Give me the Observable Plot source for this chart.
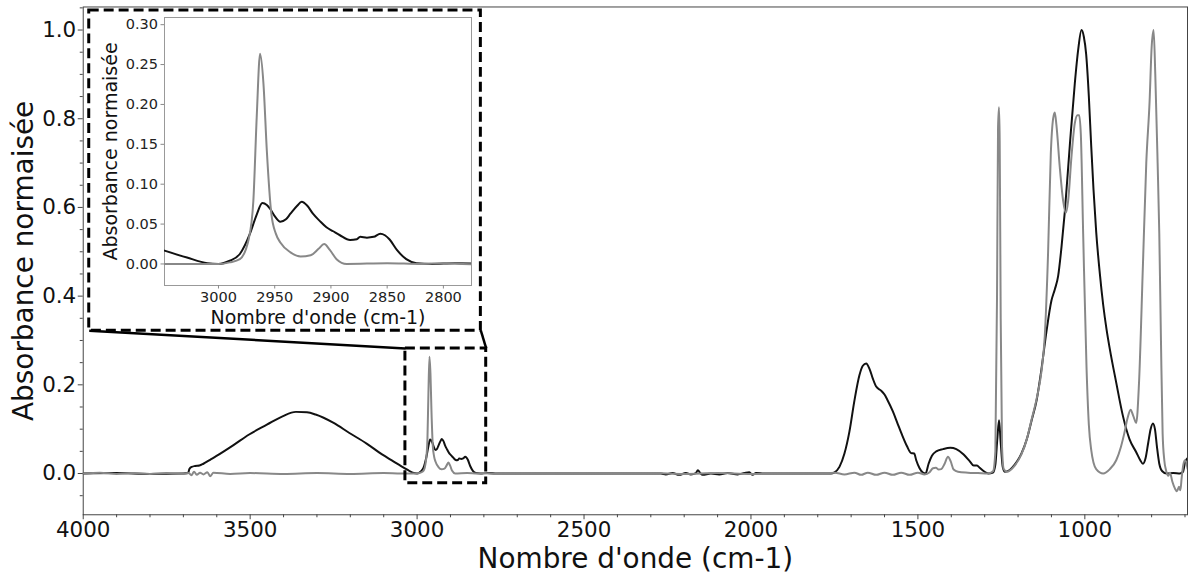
<!DOCTYPE html>
<html>
<head>
<meta charset="utf-8">
<script src="https://cdn.jsdelivr.net/npm/d3@7"></script>
<script src="https://cdn.jsdelivr.net/npm/@observablehq/plot@0.6"></script>
<style>
  html, body { margin: 0; padding: 0; background: white; overflow: hidden; }
  #wrap { position: relative; width: 1190px; height: 577px; overflow: hidden; }
  #inset { position: absolute; left: 92px; top: 14px; }
</style>
</head>
<body>
<div id="wrap"><div id="main"></div><div id="inset"></div></div>
<script>
// ---------- DATA ----------
const xLabel = "Nombre d'onde (cm-1)";
const yLabel = "Absorbance normaisée";

const blackWn = [4000,3900,3800,3700,3686,3682,3675,3665,3652,3640,3620,3602,3550,3503,3450,3403,3363,3330,3304,3250,3204,3150,3105,3070,3048,3028,3010,3000,2990,2981,2972,2966,2961,2957,2954,2950,2945,2940,2936,2930,2926,2921,2916,2910,2904,2898,2892,2883,2877,2874,2868,2862,2856,2852,2848,2841,2833,2824,2810,2790,2760,2600,2400,2270,2255,2235,2215,2195,2180,2165,2159,2152,2145,2120,2095,2070,2040,2020,2005,1995,1985,1960,1900,1760,1751,1735,1720,1705,1690,1675,1665,1655,1645,1635,1625,1612,1600,1592,1575,1562,1548,1533,1520,1511,1505,1495,1485,1477,1468,1458,1445,1425,1403,1385,1363,1345,1333,1323,1315,1300,1289,1275,1268,1262,1257,1252,1246,1240,1225,1210,1190,1174,1160,1144,1130,1115,1100,1090,1080,1070,1060,1045,1030,1020,1010,1003,996,988,981,974,966,955,945,935,925,906,886,866,846,834,826,818,810,803,796,790,784,777,768,755,735,715,706,700,692];
const blackAbs = [0,0.001,-0.001,0,0.001,0.010,0.015,0.017,0.018,0.022,0.031,0.039,0.064,0.088,0.110,0.129,0.139,0.138,0.133,0.114,0.092,0.067,0.043,0.027,0.0167,0.008,0.001,0,0.004,0.0125,0.038,0.062,0.0765,0.074,0.069,0.060,0.053,0.056,0.063,0.073,0.078,0.073,0.063,0.054,0.046,0.041,0.036,0.030,0.031,0.034,0.033,0.034,0.038,0.036,0.031,0.017,0.006,0.001,0,0.001,0,0,0,0,-0.002,0.001,-0.003,0.001,-0.002,0.001,0.0075,0.001,-0.003,0,-0.002,0.001,-0.002,0.001,0.003,-0.003,0.001,0,0,0,0.002,0.015,0.045,0.095,0.165,0.222,0.243,0.248,0.236,0.214,0.196,0.188,0.178,0.167,0.140,0.115,0.088,0.062,0.046,0.045,0.030,0.012,0.002,0,0.022,0.040,0.050,0.055,0.058,0.055,0.043,0.028,0.018,0.018,0.013,0.004,0,0.002,0.02,0.08,0.12,0.07,0.015,0.004,0.008,0.020,0.045,0.077,0.118,0.167,0.235,0.320,0.390,0.415,0.445,0.510,0.590,0.740,0.880,0.955,1.0,0.985,0.945,0.850,0.740,0.640,0.545,0.450,0.380,0.325,0.280,0.205,0.130,0.077,0.048,0.030,0.022,0.035,0.070,0.100,0.113,0.100,0.060,0.022,0.005,0,0.001,0,0.004,0.025,0.035];

const grayWn = [4000,3950,3900,3850,3800,3750,3700,3684,3676,3668,3660,3650,3640,3628,3620,3610,3560,3500,3400,3300,3200,3100,3048,3000,2990,2981,2973,2969,2966,2963,2960,2957,2953,2949,2945,2936,2927,2918,2911,2906,2901,2895,2886,2850,2820,2800,2770,2700,2600,2500,2400,2300,2200,2100,2000,1900,1800,1750,1720,1690,1670,1650,1625,1600,1575,1550,1525,1500,1480,1465,1455,1446,1438,1430,1420,1410,1402,1393,1380,1350,1320,1290,1275,1268,1263,1260,1257,1255,1252,1248,1243,1234,1210,1190,1174,1160,1144,1130,1120,1110,1102,1095,1090,1085,1075,1065,1057,1050,1040,1030,1022,1017,1012,1005,995,988,981,966,945,925,906,892,882,872,863,855,846,838,826,816,806,800,794,789,782,777,772,767,762,757,750,745,738,730,724,718,714,710,705,700,692];
const grayAbs = [0,0.002,-0.001,0.001,-0.001,0.001,-0.001,0.001,-0.004,0.004,-0.003,0.002,-0.002,0.003,-0.006,0.002,-0.001,0.001,-0.001,0.001,-0.001,0.001,0,0,0.002,0.006,0.032,0.079,0.184,0.2635,0.226,0.142,0.063,0.038,0.027,0.0146,0.0095,0.011,0.019,0.025,0.0176,0.006,0,0.001,0,0.001,-0.001,0.001,-0.001,0.001,-0.001,0.001,-0.001,0.001,-0.001,0.001,-0.001,0.002,-0.002,0.002,-0.003,0.002,-0.003,0.002,-0.003,0.002,-0.003,0.002,-0.002,0.003,0.012,0.013,0.009,0.010,0.022,0.038,0.028,0.009,0.004,0.002,0.001,0,0.005,0.05,0.40,0.78,0.826,0.75,0.35,0.06,0.01,0.004,0.018,0.043,0.077,0.120,0.170,0.230,0.310,0.500,0.720,0.800,0.814,0.785,0.690,0.615,0.588,0.615,0.715,0.790,0.808,0.808,0.765,0.540,0.240,0.110,0.054,0.010,0,0.010,0.030,0.060,0.090,0.125,0.144,0.130,0.114,0.200,0.470,0.700,0.840,0.960,1.0,0.900,0.700,0.540,0.300,0.090,0.030,0.008,-0.005,0.002,-0.018,-0.034,-0.040,-0.030,-0.038,-0.010,0.020,0.030,0.010];

const xMajorTicks = [4000, 3500, 3000, 2500, 2000, 1500, 1000];
const xMinorTicks = [3900,3800,3700,3600,3400,3300,3200,3100,2900,2800,2700,2600,2400,2300,2200,2100,1900,1800,1700,1600,1400,1300,1200,1100,900,800,700];
const yMajorTicks = [0, 0.2, 0.4, 0.6, 0.8, 1.0];
const yMinorTicks = [-0.05,0.05,0.1,0.15,0.25,0.3,0.35,0.45,0.5,0.55,0.65,0.7,0.75,0.85,0.9,0.95,1.05];

const insetXTicks = [3000, 2950, 2900, 2850, 2800];
const insetYTicks = [0, 0.05, 0.10, 0.15, 0.20, 0.25, 0.30];

// zoom region (main data coords) and inset dashed box (main data coords)
const zoomBox = {x1: 3035, x2: 2793, y1: -0.022, y2: 0.282};
const insetBox = {x1: 3982, x2: 2809, y1: 0.322, y2: 1.044};

const mainXDomain = [4000, 692.5];
const mainYDomain = [-0.093, 1.052];
const insetXDomain = [3048, 2775];
const insetYDomain = [-0.027, 0.309];

// ---------- TABLES ----------
const black = blackWn.map((w, i) => ({wn: w, a: blackAbs[i]})).sort((p, q) => p.wn - q.wn);
const gray = grayWn.map((w, i) => ({wn: w, a: grayAbs[i]})).sort((p, q) => p.wn - q.wn);
const connectors = [
  {x1: insetBox.x1, y1: insetBox.y1, x2: zoomBox.x1, y2: zoomBox.y2},
  {x1: insetBox.x2, y1: insetBox.y1, x2: zoomBox.x2, y2: zoomBox.y2}
];

const BLACK = "#111";
const GRAY = "#888";
const FONT = "DejaVu Sans";

// ---------- MAIN ----------
const main = Plot.plot({
  width: 1194, height: 577,
  marginLeft: 83, marginRight: 3, marginTop: 6.5, marginBottom: 61,
  style: {fontFamily: FONT, fontSize: "21.5px", background: "white", color: "#111", overflow: "visible"},
  x: {domain: mainXDomain},
  y: {domain: mainYDomain},
  marks: [
    Plot.frame({stroke: "#444", strokeWidth: 1}),
    Plot.axisX({ticks: xMinorTicks, tickSize: 3, tickFormat: () => "", label: null, stroke: "#444"}),
    Plot.axisX({ticks: xMajorTicks, tickSize: 5, tickPadding: 2, tickFormat: d => String(d), label: null, stroke: "#444", fontSize: 21.5}),
    Plot.axisY({ticks: yMinorTicks, tickSize: 3, tickFormat: () => "", label: null, stroke: "#444"}),
    Plot.axisY({ticks: yMajorTicks, tickSize: 5, tickPadding: 2, tickFormat: d3.format(".1f"), label: null, stroke: "#444", fontSize: 21.5}),
    Plot.line(black, {x: "wn", y: "a", stroke: BLACK, strokeWidth: 2, curve: "monotone-x", clip: true}),
    Plot.line(gray, {x: "wn", y: "a", stroke: GRAY, strokeWidth: 2, curve: "monotone-x", clip: true}),
    Plot.rect([zoomBox], {x1: "x1", x2: "x2", y1: "y1", y2: "y2", fill: "none", stroke: "black", strokeWidth: 3, strokeDasharray: "10,5"}),
    Plot.rect([insetBox], {x1: "x1", x2: "x2", y1: "y1", y2: "y2", fill: "white", stroke: "black", strokeWidth: 3, strokeDasharray: "10,5"}),
    Plot.link(connectors, {x1: "x1", y1: "y1", x2: "x2", y2: "y2", stroke: "black", strokeWidth: 2.5}),
    Plot.text([xLabel], {text: d => d, frameAnchor: "bottom", dy: 44, textAnchor: "middle", lineAnchor: "middle", fontSize: 28, fill: "#111"}),
    Plot.text([yLabel], {text: d => d, frameAnchor: "left", dx: -59, rotate: -90, textAnchor: "middle", lineAnchor: "middle", fontSize: 28, fill: "#111"})
  ]
});
document.getElementById("main").appendChild(main);

// ---------- INSET ----------
const insetBlack = black.filter(d => d.wn >= 2760 && d.wn <= 3070);
const insetGray = gray.filter(d => d.wn >= 2760 && d.wn <= 3070);
const inset = Plot.plot({
  width: 385, height: 316,
  marginLeft: 72, marginRight: 6, marginTop: 3, marginBottom: 45,
  style: {fontFamily: FONT, fontSize: "14.5px", background: "transparent", color: "#222", overflow: "visible"},
  x: {domain: insetXDomain},
  y: {domain: insetYDomain},
  marks: [
    Plot.frame({stroke: "#999", strokeWidth: 1}),
    Plot.axisX({ticks: insetXTicks, tickSize: 3.5, tickPadding: 2.5, tickFormat: d => String(d), label: null, stroke: "#888", fontSize: 14.5}),
    Plot.axisY({ticks: insetYTicks, tickSize: 3.5, tickPadding: 3, tickFormat: d3.format(".2f"), label: null, stroke: "#888", fontSize: 14.5}),
    Plot.line(insetBlack, {x: "wn", y: "a", stroke: BLACK, strokeWidth: 2, curve: "monotone-x", clip: true}),
    Plot.line(insetGray, {x: "wn", y: "a", stroke: GRAY, strokeWidth: 2, curve: "monotone-x", clip: true}),
    Plot.text([xLabel], {text: d => d, frameAnchor: "bottom", dy: 32, textAnchor: "middle", lineAnchor: "middle", fontSize: 19, fill: "#111"}),
    Plot.text([yLabel], {text: d => d, frameAnchor: "left", dx: -54, rotate: -90, textAnchor: "middle", lineAnchor: "middle", fontSize: 19, fill: "#111"})
  ]
});
document.getElementById("inset").appendChild(inset);
</script>
</body>
</html>
